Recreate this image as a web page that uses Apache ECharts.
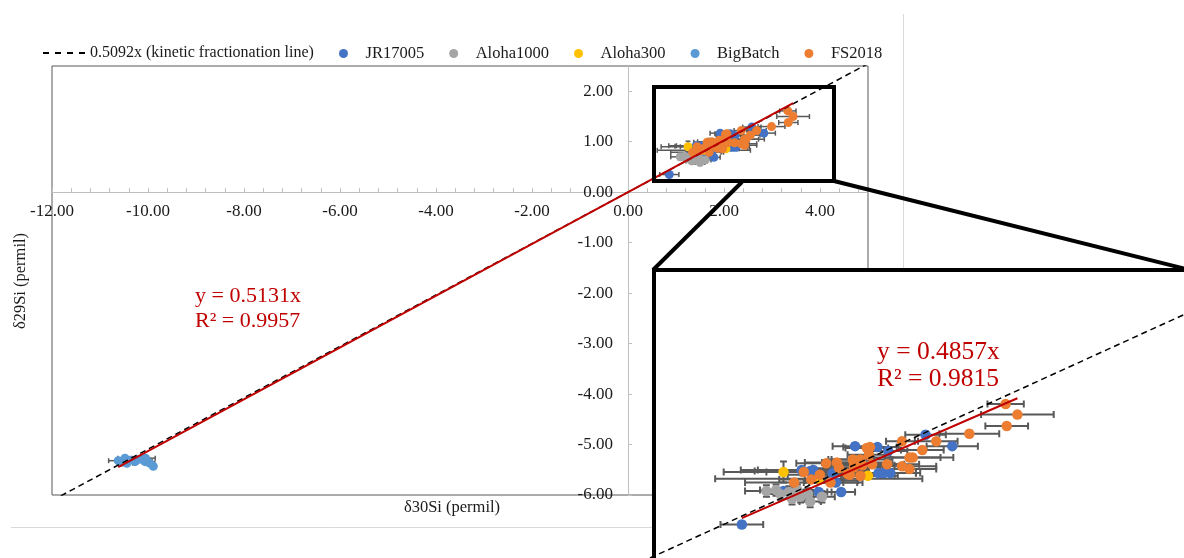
<!DOCTYPE html>
<html>
<head>
<meta charset="utf-8">
<script src="https://cdn.jsdelivr.net/npm/echarts@6/dist/echarts.min.js"></script>
<style>html,body{margin:0;padding:0;background:#fff;}#chart{width:1184px;height:558px;}</style>
</head>
<body>
<div id="chart"></div>
<script>
// ---- data: [δ30Si, δ29Si, xErr, yErr] ----
const jr17005 = [
  [0.86,0.35,0.20,0.03],[1.25,0.70,0.15,0.03],[1.58,0.69,0.12,0.03],[1.79,0.69,0.13,0.03],
  [1.42,0.92,0.57,0.03],[1.50,0.91,0.52,0.03],[1.53,0.92,0.52,0.03],[1.71,0.89,0.30,0.03],
  [1.74,0.79,0.25,0.03],[1.70,0.81,0.25,0.03],[1.92,1.17,0.21,0.03],[2.13,1.16,0.20,0.03],
  [2.23,1.12,0.18,0.03],[2.58,1.29,0.19,0.03],[2.83,1.17,0.24,0.03],[2.14,0.89,0.35,0.03],
  [2.19,0.89,0.30,0.03],[2.25,0.89,0.28,0.03]
];
const aloha1000 = [
  [1.09,0.70,0.20,0.06],[1.18,0.71,0.15,0.06],[1.22,0.67,0.12,0.06],[1.30,0.69,0.14,0.06],
  [1.38,0.71,0.18,0.06],[1.41,0.64,0.12,0.06],[1.48,0.67,0.15,0.06],[1.50,0.59,0.10,0.06],
  [1.61,0.64,0.12,0.06],[1.33,0.62,0.12,0.06]
];
const aloha300 = [
  [1.25,0.90,0.56,0.11],[1.58,0.83,0.97,0.03],[2.04,0.86,0.25,0.03]
];
const bigBatch = [
  [-10.62,-5.32,0.20,0.03],[-10.48,-5.27,0.15,0.03],[-10.38,-5.31,0.12,0.03],[-10.27,-5.34,0.15,0.03],
  [-10.17,-5.29,0.12,0.03],[-10.06,-5.34,0.15,0.03],[-9.96,-5.37,0.10,0.03],[-9.89,-5.43,0.04,0.03],
  [-10.44,-5.37,0.12,0.03],[-10.55,-5.35,0.10,0.03],[-10.05,-5.27,0.20,0.03]
];
const fs2018 = [
  [1.35,0.79,0.46,0.03],[1.44,0.90,0.35,0.03],[1.51,0.82,0.30,0.03],[1.59,0.87,0.30,0.03],
  [1.65,0.99,0.28,0.03],[1.69,0.79,0.25,0.03],[1.75,1.00,0.30,0.03],[1.77,0.94,0.25,0.03],
  [1.87,0.87,0.30,0.03],[1.91,1.00,0.30,0.03],[1.97,1.03,0.30,0.03],[1.99,0.97,0.30,0.03],
  [1.97,0.86,0.35,0.03],[2.03,1.15,0.20,0.03],[2.05,1.08,0.20,0.03],[2.06,1.16,0.25,0.03],
  [2.08,0.98,0.30,0.03],[2.22,0.98,0.30,0.03],[2.36,1.22,0.15,0.03],[2.36,0.96,0.32,0.03],
  [2.43,1.05,0.41,0.03],[2.46,1.05,0.26,0.03],[2.43,0.93,0.25,0.03],[2.55,1.13,0.20,0.03],
  [2.68,1.22,0.20,0.03],[2.99,1.30,0.28,0.03],[3.33,1.61,0.17,0.03],[3.44,1.50,0.34,0.03],
  [3.34,1.38,0.20,0.03],[1.90,1.03,0.20,0.03],[1.91,0.95,0.25,0.03],[1.85,0.88,0.30,0.03]
];
const seriesNames = ['JR17005','Aloha1000','Aloha300','BigBatch','FS2018'];
const seriesColors = ['#4472C4','#A5A5A5','#FFC000','#5B9BD5','#ED7D31'];
const seriesData = [jr17005, aloha1000, aloha300, bigBatch, fs2018];

const kineticName = '0.5092x (kinetic fractionation line)';
const kineticSlope = 0.5092;
const mainFit = {slope: 0.5131, r2: 0.9957};
const insetFit = {slope: 0.4857, r2: 0.9815};

const mainX = {min: -12, max: 5, interval: 2};
const mainY = {min: -6, max: 2.5, interval: 1};
const insetX = {min: 0, max: 5};
const insetY = {min: 0, max: 3};

const xTitle = 'δ30Si (permil)';
const yTitle = 'δ29Si (permil)';

// ---- chart ----
const FONT = "'Liberation Serif','Times New Roman',serif";
const allMain = [].concat(...seriesData);
const allInset = [].concat(jr17005, aloha1000, aloha300, fs2018);
const minOf = a => Math.min(...a.map(p => p[0]));
const maxOf = a => Math.max(...a.map(p => p[0]));

function errRender(cap, lw) {
  return function (params, api) {
    const x = api.value(0), y = api.value(1), ex = api.value(2), ey = api.value(3);
    const l = api.coord([x - ex, y]), r = api.coord([x + ex, y]);
    const t = api.coord([x, y + ey]), b = api.coord([x, y - ey]);
    const st = {stroke: '#595959', lineWidth: lw};
    const h = cap / 2;
    return {type: 'group', children: [
      {type:'line', shape:{x1:l[0],y1:l[1],x2:r[0],y2:r[1]}, style: st},
      {type:'line', shape:{x1:l[0],y1:l[1]-h,x2:l[0],y2:l[1]+h}, style: st},
      {type:'line', shape:{x1:r[0],y1:r[1]-h,x2:r[0],y2:r[1]+h}, style: st},
      {type:'line', shape:{x1:t[0],y1:t[1],x2:b[0],y2:b[1]}, style: st},
      {type:'line', shape:{x1:t[0]-h,y1:t[1],x2:t[0]+h,y2:t[1]}, style: st},
      {type:'line', shape:{x1:b[0]-h,y1:b[1],x2:b[0]+h,y2:b[1]}, style: st}
    ]};
  };
}

const series = [];
function addGroup(gi, errData, cap, lw, symSize, kinX, fit, fitData, zBase) {
  series.push({type:'custom', xAxisIndex:gi, yAxisIndex:gi, renderItem: errRender(cap, lw),
    data: errData, encode:{x:0,y:1}, clip:true, z: zBase, silent:true});
  seriesNames.forEach((n, i) => {
    if (gi === 1 && n === 'BigBatch') return;
    series.push({type:'scatter', name:n, xAxisIndex:gi, yAxisIndex:gi, data: seriesData[i].map(p => [p[0], p[1]]),
      symbol:'circle', symbolSize: symSize, itemStyle:{color: seriesColors[i], opacity:1}, clip:true, z: zBase+1, silent:true});
  });
  series.push({type:'line', name:kineticName, xAxisIndex:gi, yAxisIndex:gi,
    data: kinX.map(x => [x, kineticSlope * x]), symbol:'none', clip:true, itemStyle:{color:'#000'},
    lineStyle:{color:'#000', width:1.5, type:[6,4]}, z: zBase+2, silent:true});
  const x0 = minOf(fitData), x1 = maxOf(fitData);
  series.push({type:'line', name:'fit'+gi, xAxisIndex:gi, yAxisIndex:gi,
    data: [[x0, fit.slope*x0],[x1, fit.slope*x1]], symbol:'none', clip:true,
    lineStyle:{color:'#C00000', width:2}, z: zBase+3, silent:true});
}
addGroup(0, allMain, 5, 1.5, 9, [mainX.min, mainX.max], mainFit, allMain, 2);
addGroup(1, allInset, 7, 2, 10.5, [insetX.min, insetX.max], insetFit, allInset, 10);

const G = {left: 52, top: 66, width: 816, height: 429};
// shift the axes so that they cross at 0,0 (Excel style)
const xAxisOffset = -((0 - mainY.min) / (mainY.max - mainY.min)) * G.height;
const yAxisOffset = -((0 - mainX.min) / (mainX.max - mainX.min)) * G.width;

const axisGrey = '#bfbfbf';
const lblStyle = {fontFamily: FONT, fontSize: 17, color: '#1a1a1a'};
const dashIcon = 'path://M0,0h6v2h-6z M12,0h6v2h-6z M24,0h6v2h-6z M36,0h6v2h-6z';

const option = {
  animation: false,
  backgroundColor: '#fff',
  grid: [
    {left: G.left, top: G.top, width: G.width, height: G.height, show: true, borderColor: '#595959', borderWidth: 1, backgroundColor: 'transparent', containLabel: false},
    {left: 650, top: 271.2, width: 545, height: 292.8, containLabel: false}
  ],
  xAxis: [
    {type:'value', gridIndex:0, min: mainX.min, max: mainX.max, interval: mainX.interval, position:'bottom', offset: xAxisOffset,
     axisLine:{onZero:false, lineStyle:{color: axisGrey, width:1}},
     axisTick:{show:true, inside:true, length:4, lineStyle:{color: axisGrey}},
     minorTick:{show:true, splitNumber:5, length:4, lineStyle:{color: axisGrey}},
     splitLine:{show:false},
     axisLabel:{...lblStyle, margin: 11, showMaxLabel:false, formatter: v => v.toFixed(2)}},
    {type:'value', gridIndex:1, min: insetX.min, max: insetX.max, show:false}
  ],
  yAxis: [
    {type:'value', gridIndex:0, min: mainY.min, max: mainY.max, interval: mainY.interval, position:'left', offset: yAxisOffset,
     axisLine:{onZero:false, lineStyle:{color: axisGrey, width:1}},
     axisTick:{show:true, inside:true, length:4, lineStyle:{color: axisGrey}},
     splitLine:{show:false},
     axisLabel:{...lblStyle, margin: 15, showMaxLabel:false, formatter: v => v.toFixed(2)}},
    {type:'value', gridIndex:1, min: insetY.min, max: insetY.max, show:false}
  ],
  legend: [
    {data:[{name: kineticName, icon: dashIcon, itemStyle:{color:'#000'}}], left: 38, top: 40, itemWidth: 42, itemHeight: 2, selectedMode:false,
     textStyle:{fontFamily: FONT, fontSize: 16, color:'#1a1a1a'}},
    {data: seriesNames.map(n => ({name:n, icon:'circle'})), left: 334, top: 40, itemWidth: 34, itemHeight: 9,
     itemGap: 25, selectedMode:false, textStyle:{fontFamily: FONT, fontSize: 16.5, color:'#1a1a1a'}}
  ],
  graphic: [
    {type:'line', shape:{x1:903.5,y1:14,x2:903.5,y2:270}, style:{stroke:'#d9d9d9', lineWidth:1}, z:1},
    {type:'line', shape:{x1:11,y1:527.5,x2:652,y2:527.5}, style:{stroke:'#d9d9d9', lineWidth:1}, z:1},
    {type:'rect', shape:{x:652,y:268,width:560,height:320}, style:{fill:'#fff'}, z:1},
    {type:'rect', shape:{x:654,y:270,width:600,height:400}, style:{fill:'none', stroke:'#000', lineWidth:4}, z:60},
    {type:'rect', shape:{x:654,y:87,width:180,height:94}, style:{fill:'none', stroke:'#000', lineWidth:4}, z:60},
    {type:'line', shape:{x1:742,y1:182,x2:653,y2:270}, style:{stroke:'#000', lineWidth:4}, z:60},
    {type:'line', shape:{x1:834,y1:181,x2:1190,y2:270}, style:{stroke:'#000', lineWidth:4}, z:60},
    {type:'text', x:195, y:284, z:60, style:{text:'y = ' + mainFit.slope.toFixed(4) + 'x\nR² = ' + mainFit.r2.toFixed(4),
      fill:'#C00000', font:'22px ' + FONT, lineHeight:25}},
    {type:'text', x:877, y:339, z:60, style:{text:'y = ' + insetFit.slope.toFixed(4) + 'x\nR² = ' + insetFit.r2.toFixed(4),
      fill:'#C00000', font:'25.5px ' + FONT, lineHeight:27}},
    {type:'text', x:452, y:508, z:60, style:{text: xTitle, fill:'#1a1a1a', font:'16.5px ' + FONT, align:'center', verticalAlign:'middle'}},
    {type:'text', x:21, y:281, rotation: Math.PI/2, z:60, style:{text: yTitle, fill:'#1a1a1a', font:'16.5px ' + FONT, align:'center', verticalAlign:'middle'}}
  ],
  series: series
};
const chart = echarts.init(document.getElementById('chart'), null, {renderer:'canvas'});
chart.setOption(option);
</script>
</body>
</html>
